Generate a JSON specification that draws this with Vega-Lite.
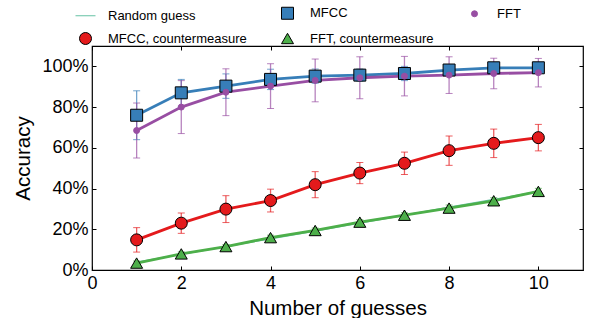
{
  "$schema": "https://vega.github.io/schema/vega-lite/v6.json",
  "width": 491,
  "height": 224,
  "autosize": "none",
  "padding": {"left": 92, "top": 46, "right": 11, "bottom": 48},
  "data": {
    "values": [
      {"series": "Random guess", "guesses": 1, "acc": 0.038, "err": 0},
      {"series": "Random guess", "guesses": 2, "acc": 0.077, "err": 0},
      {"series": "Random guess", "guesses": 3, "acc": 0.115, "err": 0},
      {"series": "Random guess", "guesses": 4, "acc": 0.154, "err": 0},
      {"series": "Random guess", "guesses": 5, "acc": 0.192, "err": 0},
      {"series": "Random guess", "guesses": 6, "acc": 0.231, "err": 0},
      {"series": "Random guess", "guesses": 7, "acc": 0.269, "err": 0},
      {"series": "Random guess", "guesses": 8, "acc": 0.308, "err": 0},
      {"series": "Random guess", "guesses": 9, "acc": 0.346, "err": 0},
      {"series": "Random guess", "guesses": 10, "acc": 0.385, "err": 0},
      {"series": "MFCC", "guesses": 1, "acc": 0.76, "err": 0.12},
      {"series": "MFCC", "guesses": 2, "acc": 0.87, "err": 0.066},
      {"series": "MFCC", "guesses": 3, "acc": 0.903, "err": 0.06},
      {"series": "MFCC", "guesses": 4, "acc": 0.936, "err": 0.05},
      {"series": "MFCC", "guesses": 5, "acc": 0.952, "err": 0.035},
      {"series": "MFCC", "guesses": 6, "acc": 0.957, "err": 0.03},
      {"series": "MFCC", "guesses": 7, "acc": 0.965, "err": 0.035},
      {"series": "MFCC", "guesses": 8, "acc": 0.982, "err": 0.02},
      {"series": "MFCC", "guesses": 9, "acc": 0.993, "err": 0.02},
      {"series": "MFCC", "guesses": 10, "acc": 0.993, "err": 0.02},
      {"series": "FFT", "guesses": 1, "acc": 0.685, "err": 0.135},
      {"series": "FFT", "guesses": 2, "acc": 0.80, "err": 0.13},
      {"series": "FFT", "guesses": 3, "acc": 0.873, "err": 0.115},
      {"series": "FFT", "guesses": 4, "acc": 0.903, "err": 0.11},
      {"series": "FFT", "guesses": 5, "acc": 0.931, "err": 0.105},
      {"series": "FFT", "guesses": 6, "acc": 0.944, "err": 0.103},
      {"series": "FFT", "guesses": 7, "acc": 0.952, "err": 0.097},
      {"series": "FFT", "guesses": 8, "acc": 0.957, "err": 0.09},
      {"series": "FFT", "guesses": 9, "acc": 0.965, "err": 0.075},
      {"series": "FFT", "guesses": 10, "acc": 0.969, "err": 0.07},
      {"series": "MFCC, countermeasure", "guesses": 1, "acc": 0.148, "err": 0.06},
      {"series": "MFCC, countermeasure", "guesses": 2, "acc": 0.23, "err": 0.05},
      {"series": "MFCC, countermeasure", "guesses": 3, "acc": 0.299, "err": 0.066},
      {"series": "MFCC, countermeasure", "guesses": 4, "acc": 0.341, "err": 0.056},
      {"series": "MFCC, countermeasure", "guesses": 5, "acc": 0.419, "err": 0.064},
      {"series": "MFCC, countermeasure", "guesses": 6, "acc": 0.476, "err": 0.052},
      {"series": "MFCC, countermeasure", "guesses": 7, "acc": 0.524, "err": 0.055},
      {"series": "MFCC, countermeasure", "guesses": 8, "acc": 0.586, "err": 0.072},
      {"series": "MFCC, countermeasure", "guesses": 9, "acc": 0.622, "err": 0.07},
      {"series": "MFCC, countermeasure", "guesses": 10, "acc": 0.65, "err": 0.065},
      {"series": "FFT, countermeasure", "guesses": 1, "acc": 0.034, "err": 0.01},
      {"series": "FFT, countermeasure", "guesses": 2, "acc": 0.079, "err": 0.01},
      {"series": "FFT, countermeasure", "guesses": 3, "acc": 0.115, "err": 0.01},
      {"series": "FFT, countermeasure", "guesses": 4, "acc": 0.159, "err": 0.012},
      {"series": "FFT, countermeasure", "guesses": 5, "acc": 0.194, "err": 0.012},
      {"series": "FFT, countermeasure", "guesses": 6, "acc": 0.235, "err": 0.012},
      {"series": "FFT, countermeasure", "guesses": 7, "acc": 0.269, "err": 0.012},
      {"series": "FFT, countermeasure", "guesses": 8, "acc": 0.304, "err": 0.015},
      {"series": "FFT, countermeasure", "guesses": 9, "acc": 0.34, "err": 0.015},
      {"series": "FFT, countermeasure", "guesses": 10, "acc": 0.386, "err": 0.015}
    ]
  },
  "layer": [
    {
      "transform": [{"filter": "datum.series === 'Random guess'"}],
      "mark": {"type": "line", "strokeWidth": 1.5},
      "encoding": {
        "x": {"field": "guesses", "type": "quantitative", "scale": {"domain": [0, 11]}, "axis": {"values": [0, 2, 4, 6, 8, 10], "title": "Number of guesses", "labelPadding": 8, "titlePadding": 6}},
        "y": {"field": "acc", "type": "quantitative", "scale": {"domain": [0, 1.1]}, "axis": {"values": [0, 0.2, 0.4, 0.6, 0.8, 1.0], "format": ".0%", "title": "Accuracy", "labelPadding": 8, "titlePadding": 8}},
        "color": {"field": "series", "type": "nominal", "legend": null,
          "scale": {"domain": ["MFCC", "FFT", "MFCC, countermeasure", "FFT, countermeasure", "Random guess"],
                    "range": ["#377eb8", "#984ea3", "#e41a1c", "#4daf4a", "#66c2a5"]}}
      }
    },
    {
      "transform": [{"filter": "datum.series !== 'Random guess'"}],
      "mark": {"type": "errorbar", "ticks": {"size": 7, "opacity": 0.7, "strokeWidth": 1.3}, "rule": {"opacity": 0.7, "strokeWidth": 1.3}},
      "encoding": {
        "x": {"field": "guesses", "type": "quantitative", "axis": null},
        "y": {"field": "acc", "type": "quantitative", "axis": null},
        "yError": {"field": "err"},
        "color": {"field": "series", "type": "nominal", "legend": null}
      }
    },
    {
      "transform": [{"filter": "datum.series !== 'Random guess'"}],
      "mark": {"type": "line", "strokeWidth": 2.8},
      "encoding": {
        "x": {"field": "guesses", "type": "quantitative", "axis": {"orient": "top", "values": [0, 2, 4, 6, 8, 10], "labels": false, "title": null}},
        "y": {"field": "acc", "type": "quantitative", "axis": {"orient": "right", "values": [0, 0.2, 0.4, 0.6, 0.8, 1.0], "labels": false, "title": null}},
        "color": {"field": "series", "type": "nominal", "legend": null}
      }
    },
    {
      "transform": [{"filter": "datum.series !== 'Random guess'"}],
      "mark": {"type": "point", "filled": true, "opacity": 1, "strokeWidth": 1},
      "encoding": {
        "x": {"field": "guesses", "type": "quantitative", "axis": null},
        "y": {"field": "acc", "type": "quantitative", "axis": null},
        "fill": {"field": "series", "type": "nominal", "title": null,
          "scale": {"domain": ["Random guess", "MFCC", "FFT", "MFCC, countermeasure", "FFT, countermeasure"],
                    "range": ["#66c2a5", "#377eb8", "#984ea3", "#e41a1c", "#4daf4a"]},
          "legend": {"orient": "none", "legendX": -17, "legendY": -41, "columns": 3, "direction": "horizontal",
                     "columnPadding": 30, "rowPadding": 7, "labelFontSize": 13, "labelColor": "black", "labelOffset": 12,
                     "padding": 0, "symbolStrokeWidth": 1, "labelLimit": 300}},
        "stroke": {"field": "series", "type": "nominal", "title": null,
          "scale": {"domain": ["Random guess", "MFCC", "FFT", "MFCC, countermeasure", "FFT, countermeasure"],
                    "range": ["#66c2a5", "black", "#984ea3", "black", "black"]}},
        "shape": {"field": "series", "type": "nominal", "title": null,
          "scale": {"domain": ["Random guess", "MFCC", "FFT", "MFCC, countermeasure", "FFT, countermeasure"],
                    "range": ["stroke", "square", "circle", "circle", "triangle-up"]}},
        "size": {"field": "series", "type": "nominal", "title": null,
          "scale": {"type": "ordinal", "domain": ["Random guess", "MFCC", "FFT", "MFCC, countermeasure", "FFT, countermeasure"],
                    "range": [400, 144, 36, 144, 144]}}
      }
    }
  ],
  "resolve": {"axis": {"x": "independent", "y": "independent"}},
  "config": {
    "font": "Liberation Sans",
    "view": {"stroke": "black", "strokeWidth": 1.2},
    "axis": {
      "grid": false,
      "domain": false,
      "tickColor": "black",
      "tickSize": -4,
      "tickWidth": 1,
      "labelFlush": false,
      "labelFontSize": 18,
      "labelColor": "black",
      "titleFontSize": 20.5,
      "titleFontWeight": "normal",
      "titleColor": "black"
    }
  }
}
